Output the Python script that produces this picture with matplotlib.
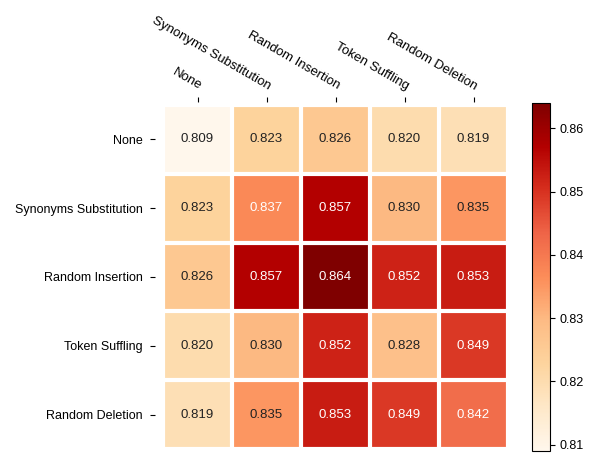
import numpy as np
import matplotlib
matplotlib.use("Agg")
import matplotlib.pyplot as plt

plt.rcParams['font.family'] = ['Liberation Sans', 'DejaVu Sans']
plt.rcParams['font.size'] = 9

augs = ["None", "Synonyms Substitution", "Random Insertion",
        "Token Suffling", "Random Deletion"]

scores = np.array([
    [0.809, 0.823, 0.826, 0.820, 0.819],
    [0.823, 0.837, 0.857, 0.830, 0.835],
    [0.826, 0.857, 0.864, 0.852, 0.853],
    [0.820, 0.830, 0.852, 0.828, 0.849],
    [0.819, 0.835, 0.853, 0.849, 0.842],
])

fig = plt.figure(figsize=(6, 4.66), dpi=100)
# axes a bit bigger than the cells so ticks sit slightly off the grid
ax = fig.add_axes([155/600, 1 - 449/466, 353/600, 347/466])
cax = fig.add_axes([532/600, 1 - 451/466, 18/600, 348/466])

im = ax.imshow(scores, cmap="OrRd", aspect="auto")
ax.set_xlim(-0.616, 4.5)
ax.set_ylim(4.5, -0.543)
cbar = fig.colorbar(im, cax=cax)
cbar.outline.set_linewidth(0.8)

ax.set_xticks(np.arange(len(augs)), labels=augs)
ax.set_yticks(np.arange(len(augs)), labels=augs)
ax.tick_params(top=True, bottom=False, labeltop=True, labelbottom=False)
ax.tick_params(axis="y", pad=5.5)
ax.tick_params(axis="x", pad=3.5, labelsize=9.5)
plt.setp(ax.get_xticklabels(), rotation=-30, ha="right", rotation_mode="anchor")

ax.spines[:].set_visible(False)
ax.set_xticks(np.arange(len(augs) + 1) - .5, minor=True)
ax.set_yticks(np.arange(len(augs) + 1) - .5, minor=True)
ax.grid(which="minor", color="w", linestyle='-', linewidth=3)
ax.tick_params(which="minor", bottom=False, left=False, top=False)

thresh = im.norm(scores.max()) / 2.
for i in range(scores.shape[0]):
    for j in range(scores.shape[1]):
        c = "white" if im.norm(scores[i, j]) > thresh else "#222222"
        ax.text(j, i, "{:.3f}".format(scores[i, j]), ha="center", va="center",
                color=c, fontsize=9.5)

fig.savefig("out.png", dpi=100)
